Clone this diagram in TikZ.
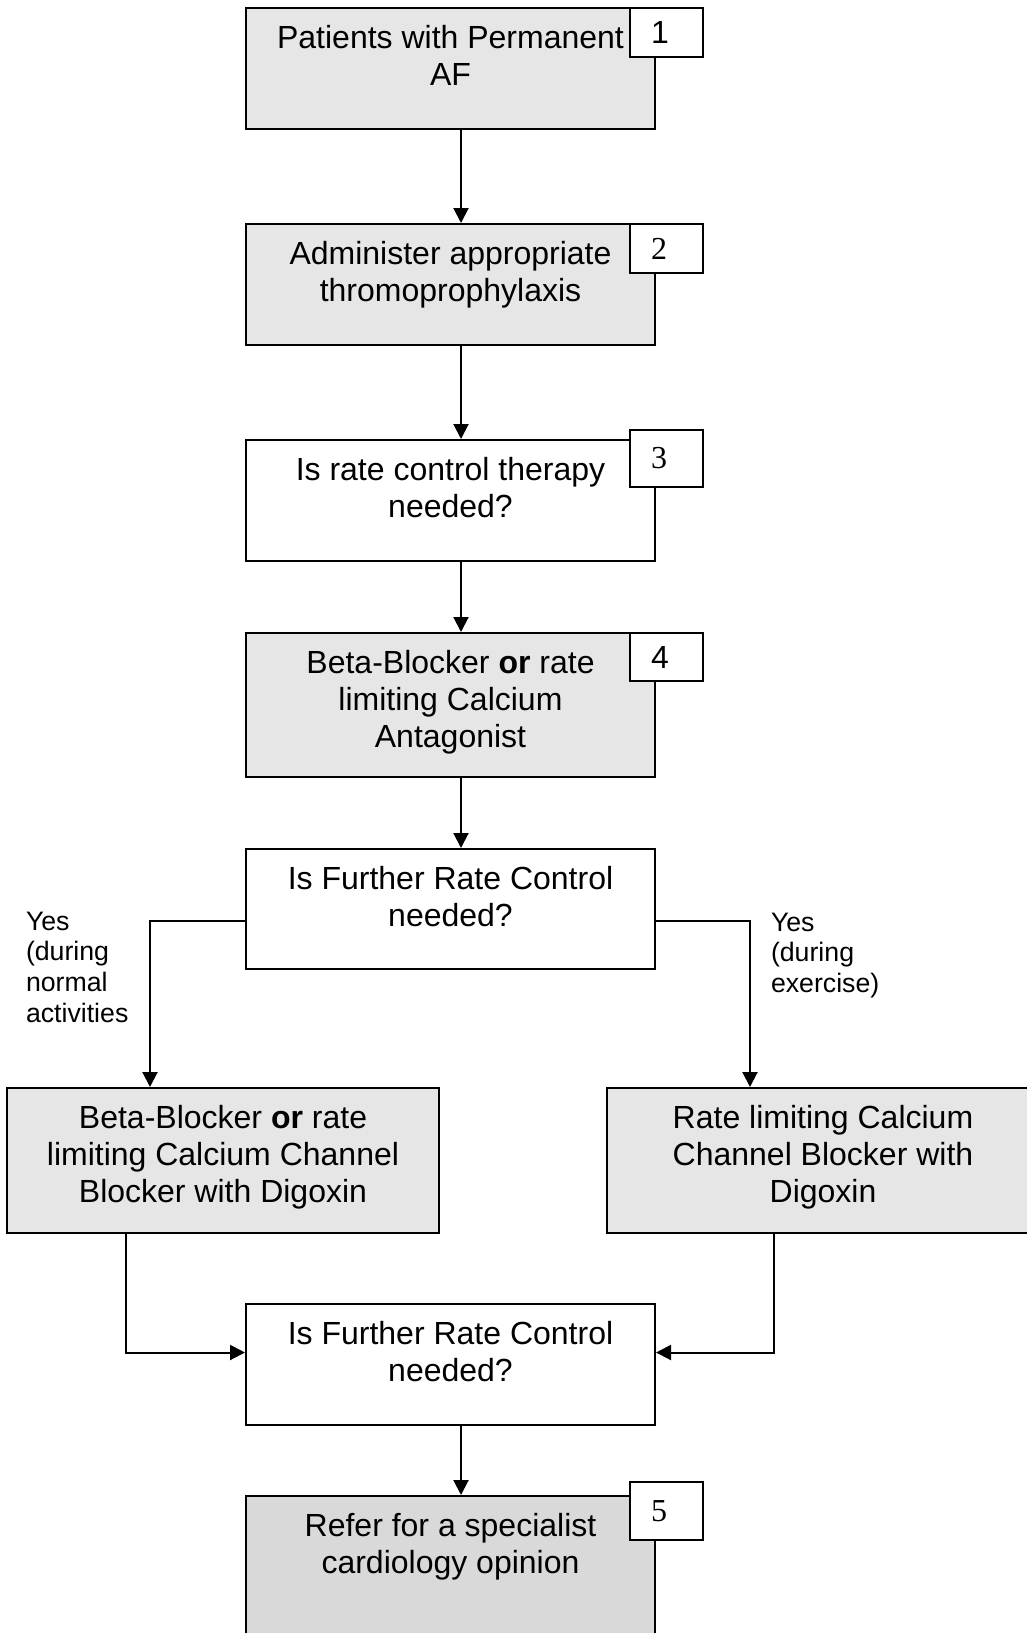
\documentclass[tikz,border=0pt]{standalone}
\usepackage{fontspec}
\setmainfont{Liberation Sans}
\newfontfamily\numfont{Liberation Serif}
\usetikzlibrary{positioning, calc, arrows.meta}
\definecolor{stagegray}{RGB}{230,230,230}
\definecolor{refergray}{RGB}{217,217,217}
\newcommand{\boxfont}{\fontsize{32}{37}\selectfont}
\newcommand{\notefont}{\fontsize{26.7}{30.7}\selectfont}
\newcommand{\stagetext}[3]{\parbox[c][#2][t]{#1}{\centering\rule{0pt}{40pt}#3\par}}

\begin{document}
\begin{tikzpicture}[x=1pt,y=-1pt,line width=2pt,>={Triangle[length=15pt,width=15pt]},
    stage/.style={draw,fill=stagegray,inner sep=0pt,anchor=north west,font=\boxfont},
    query/.style={stage,fill=white},
    tag/.style={draw,fill=white,inner xsep=21pt,inner ysep=0pt,text width=31pt,align=left,anchor=north west,font=\boxfont},
    note/.style={inner sep=0pt,anchor=north west,align=left,font=\notefont}]
    \useasboundingbox (0,0) rectangle (1027,1633);
    \clip (0,0) rectangle (1027,1633);
    % main column
    \node[stage] (patients) at (245,7) {\stagetext{409pt}{121pt}{Patients with Permanent\\AF}};
    \node[stage] (thrombo) at (245,223) {\stagetext{409pt}{121pt}{Administer appropriate\\thromoprophylaxis}};
    \node[query] (needrate) at (245,439) {\stagetext{409pt}{121pt}{Is rate control therapy\\needed?}};
    \node[stage] (firstline) at (245,632) {\stagetext{409pt}{144pt}{Beta-Blocker \textbf{or} rate\\limiting Calcium\\Antagonist}};
    \node[query] (further) at (245,848) {\stagetext{409pt}{120pt}{Is Further Rate Control\\needed?}};
    % two branches
    \node[stage] (normal) at (6,1087) {\stagetext{432pt}{145pt}{Beta-Blocker \textbf{or} rate\\limiting Calcium Channel\\Blocker with Digoxin}};
    \node[stage] (exercise) at (606,1087) {\stagetext{432pt}{145pt}{Rate limiting Calcium\\Channel Blocker with\\Digoxin}};
    \node[query] (furtheragain) at (245,1303) {\stagetext{409pt}{121pt}{Is Further Rate Control\\needed?}};
    \node[stage,fill=refergray] (refer) at (245,1495) {\stagetext{409pt}{200pt}{Refer for a specialist\\cardiology opinion}};
    % numbers
    \node[tag,minimum height=49pt] (tagone) at (629,7) {1};
    \node[tag,minimum height=49pt] (tagtwo) at (629,223) {\numfont 2};
    \node[tag,minimum height=57pt] (tagthree) at (629,429) {\numfont 3};
    \node[tag,minimum height=48pt] (tagfour) at (629,632) {4};
    \node[tag,minimum height=58pt] (tagfive) at (629,1481) {\numfont 5};
    % labels
    \node[note] (yesnormal) at (25,907) {\rule{0pt}{22pt}Yes\\(during\\normal\\activities};
    \node[note] (yesexercise) at (770,908) {\rule{0pt}{22pt}Yes\\(during\\exercise)};
    % connectors
    \coordinate (spine) at (461,0);
    \coordinate (leftdown) at (150,0);
    \coordinate (rightdown) at (750,0);
    \coordinate (leftback) at (126,0);
    \coordinate (rightback) at (774,0);
    \draw[->] (patients.south -| spine) -- (thrombo.north -| spine);
    \draw[->] (thrombo.south -| spine) -- (needrate.north -| spine);
    \draw[->] (needrate.south -| spine) -- (firstline.north -| spine);
    \draw[->] (firstline.south -| spine) -- (further.north -| spine);
    \draw[->] ([yshift=-12pt]further.west) -| (leftdown |- normal.north);
    \draw[->] ([yshift=-12pt]further.east) -| (rightdown |- exercise.north);
    \draw[->] (normal.south -| leftback) |- ([yshift=12pt]furtheragain.west);
    \draw[->] (exercise.south -| rightback) |- ([yshift=12pt]furtheragain.east);
    \draw[->] (furtheragain.south -| spine) -- (refer.north -| spine);
\end{tikzpicture}
\end{document}
